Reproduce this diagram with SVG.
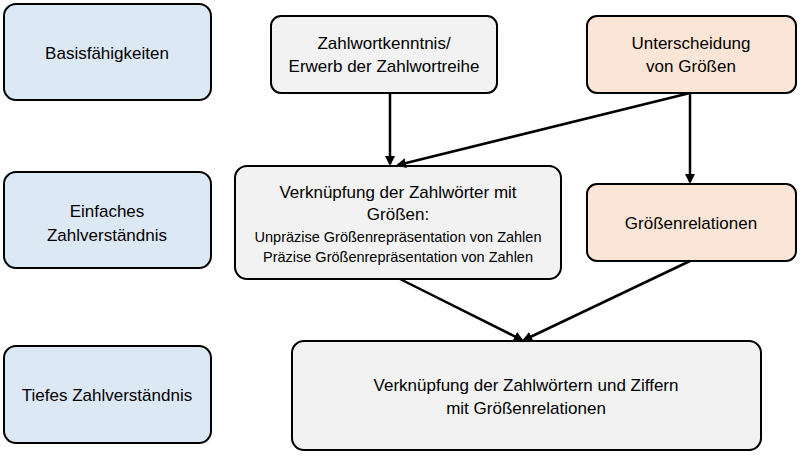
<svg xmlns="http://www.w3.org/2000/svg" width="800" height="458" viewBox="0 0 800 458">
<defs>
<marker id="ah" markerWidth="10" markerHeight="10" refX="8" refY="5" orient="auto" markerUnits="userSpaceOnUse"><path d="M0,0 L10,5 L0,10 z" fill="#000"/></marker>
<style>
rect{stroke:#000;stroke-width:2}
.b{fill:#dde8f5}.g{fill:#f2f2f2}.o{fill:#fbe5d6}
text{font-family:"Liberation Sans",Arial,sans-serif;font-size:17px;fill:#000;text-anchor:middle}
.s{font-size:14.5px}
line{stroke:#000;stroke-width:2.5}
</style>
</defs>
<rect width="800" height="458" fill="#fff" style="stroke:none"/>
<g id="n1"><rect class="b" x="4" y="4" width="207" height="96" rx="12"/><text x="107" y="59">Basisfähigkeiten</text></g>
<g id="n2"><rect class="b" x="4" y="172" width="207" height="96" rx="12"/><text x="107" y="217">Einfaches</text><text x="107" y="241">Zahlverständnis</text></g>
<g id="n3"><rect class="b" x="4" y="346" width="207" height="97" rx="12"/><text x="107" y="401">Tiefes Zahlverständnis</text></g>
<g id="n4"><rect class="g" x="271" y="16" width="226" height="77" rx="10"/><text x="384" y="49">Zahlwortkenntnis/</text><text x="384" y="72">Erwerb der Zahlwortreihe</text></g>
<g id="n5"><rect class="o" x="587" y="16" width="209" height="77" rx="10"/><text x="691" y="49">Unterscheidung</text><text x="691" y="72">von Größen</text></g>
<g id="n6"><rect class="g" x="235" y="166" width="326" height="113" rx="12"/><text x="398" y="198">Verknüpfung der Zahlwörter mit</text><text x="398" y="220">Größen:</text><text class="s" x="398" y="242">Unpräzise Größenrepräsentation von Zahlen</text><text class="s" x="398" y="262">Präzise Größenrepräsentation von Zahlen</text></g>
<g id="n7"><rect class="o" x="587" y="184" width="209" height="77" rx="10"/><text x="691" y="229">Größenrelationen</text></g>
<g id="n8"><rect class="g" x="292" y="341" width="469" height="109" rx="12"/><text x="526" y="391">Verknüpfung der Zahlwörtern und Ziffern</text><text x="526" y="414">mit Größenrelationen</text></g>
<g id="connectors">
<line x1="390" y1="93" x2="390" y2="164" marker-end="url(#ah)"/>
<line x1="690" y1="93" x2="398" y2="165" marker-end="url(#ah)"/>
<line x1="690" y1="93" x2="690" y2="182" marker-end="url(#ah)"/>
<line x1="400" y1="279" x2="522" y2="340" marker-end="url(#ah)"/>
<line x1="690" y1="261" x2="524" y2="340" marker-end="url(#ah)"/>
</g>
</svg>
